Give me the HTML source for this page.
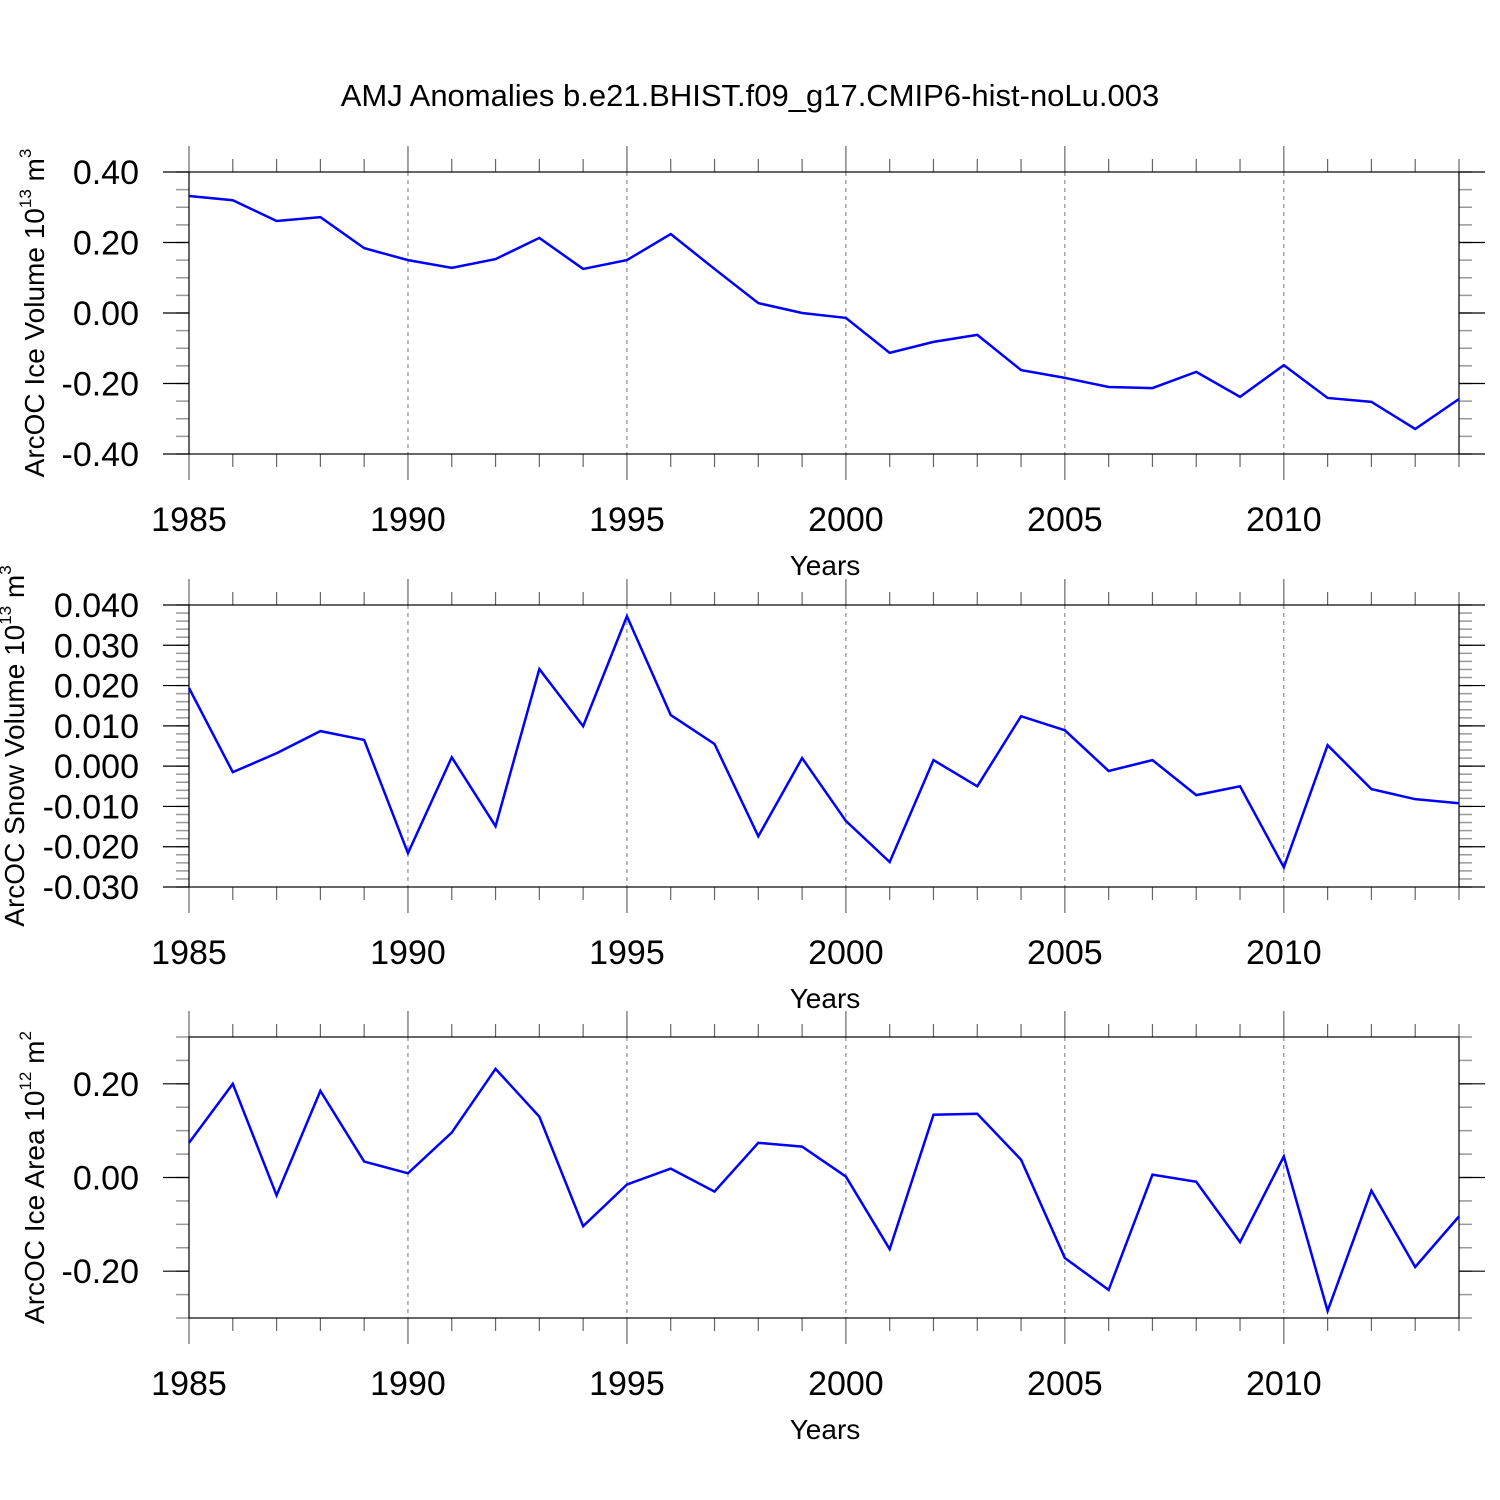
<!DOCTYPE html>
<html><head><meta charset="utf-8"><style>
html,body{margin:0;padding:0;background:#fff}
svg{display:block}
text{font-family:"Liberation Sans",sans-serif;fill:#000}
</style></head><body>
<svg id="chart" width="1500" height="1500" viewBox="0 0 1500 1500" xmlns="http://www.w3.org/2000/svg">
<text x="750" y="106" font-size="31" text-anchor="middle">AMJ Anomalies b.e21.BHIST.f09_g17.CMIP6-hist-noLu.003</text>
<g id="plots"></g>
</svg>
<script>
const years = [1985,1986,1987,1988,1989,1990,1991,1992,1993,1994,1995,1996,1997,1998,1999,2000,2001,2002,2003,2004,2005,2006,2007,2008,2009,2010,2011,2012,2013,2014];
const iceVolume = [0.332,0.32,0.261,0.272,0.184,0.150,0.128,0.153,0.213,0.125,0.150,0.224,0.125,0.028,0.0,-0.014,-0.113,-0.082,-0.062,-0.162,-0.184,-0.21,-0.213,-0.167,-0.238,-0.148,-0.241,-0.252,-0.329,-0.244];
const snowVolume = [0.0194,-0.0015,0.0032,0.0087,0.0065,-0.0216,0.0022,-0.0149,0.0241,0.0099,0.0372,0.0127,0.0055,-0.0174,0.002,-0.0136,-0.0238,0.0015,-0.005,0.0124,0.0089,-0.0012,0.0015,-0.0072,-0.005,-0.0251,0.0052,-0.0057,-0.0082,-0.0092];
const iceArea = [0.074,0.2,-0.038,0.185,0.034,0.009,0.096,0.232,0.13,-0.104,-0.015,0.019,-0.03,0.074,0.066,0.002,-0.153,0.134,0.136,0.038,-0.172,-0.24,0.006,-0.009,-0.138,0.045,-0.285,-0.028,-0.191,-0.083];
const xTickLabels = ["1985","1990","1995","2000","2005","2010"];
const volTicks = [0.4,0.2,0,-0.2,-0.4];
const snowTicks = [0.04,0.03,0.02,0.01,0,-0.01,-0.02,-0.03];
const areaTicks = [0.2,0,-0.2];

const NS="http://www.w3.org/2000/svg";
const root=document.getElementById('plots');
function mk(tag,attrs,parent){const e=document.createElementNS(NS,tag);for(const k in attrs)e.setAttribute(k,attrs[k]);(parent||root).appendChild(e);return e;}
const X0=189,X1=1459,yr0=1985,yr1=2014;
function xs(y){return X0+(y-yr0)*(X1-X0)/(yr1-yr0);}

function panel(id,top,bot,vmin,vmax,vals,ticks,minorStep,dec,titleParts,titleX){
  const g=mk('g',{});
  
  
  const ys=v=>bot-(v-vmin)*(bot-top)/(vmax-vmin);
  for(let i=1;i<xTickLabels.length;i++){
    const x=xs(+xTickLabels[i]);
    const l=mk('line',{x1:x,x2:x,y1:top,y2:bot,stroke:'#777','stroke-width':1,'stroke-dasharray':'4,4'},g);
    
    
  }
  const n=Math.round((vmax-vmin)/minorStep);
  for(let i=0;i<=n;i++){const y=ys(vmin+i*minorStep);
    mk('line',{x1:X0-13,x2:X0,y1:y,y2:y,stroke:'#999','stroke-width':1.5},g);
    mk('line',{x1:X1,x2:X1+13,y1:y,y2:y,stroke:'#999','stroke-width':1.5},g);}
  ticks.forEach(t=>{const y=ys(t);
    mk('line',{x1:X0-26,x2:X0,y1:y,y2:y,stroke:'#000','stroke-width':1.2},g);
    mk('line',{x1:X1,x2:X1+26,y1:y,y2:y,stroke:'#000','stroke-width':1.2},g);
    const tx=mk('text',{x:X0-50,y:y+12,'font-size':34,'text-anchor':'end'},g);
    tx.textContent=t.toFixed(dec);
    
    });
  years.forEach(yv=>{const x=xs(yv);const major=(yv%5===0);const L=major?26:13;
    mk('line',{x1:x,x2:x,y1:top-L,y2:top,stroke:'#666','stroke-width':1.2},g);
    mk('line',{x1:x,x2:x,y1:bot,y2:bot+L,stroke:'#666','stroke-width':1.2},g);});
  xTickLabels.forEach(l=>{const tx=mk('text',{x:xs(+l),y:bot+77,'font-size':34,'text-anchor':'middle'},g);
    tx.textContent=l;
    
    });
  const box=mk('rect',{x:X0,y:top,width:X1-X0,height:bot-top,fill:'none',stroke:'#000','stroke-width':1.2},g);
  
  
  const pl=mk('polyline',{points:vals.map((v,i)=>xs(years[i])+','+ys(v)).join(' '),fill:'none',stroke:'#0000ff','stroke-width':2.5,'stroke-linejoin':'miter'},g);
  
  
  const xt=mk('text',{x:825,y:bot+121,'font-size':28,'text-anchor':'middle'},g);
  xt.textContent='Years';
  
  
  const yt=mk('text',{x:0,y:0,'font-size':28,'text-anchor':'middle',transform:`translate(${titleX},${(top+bot)/2}) rotate(-90)`},g);
  
  
  const a=mk('tspan',{},yt);a.textContent=titleParts[0];
  const b=mk('tspan',{'font-size':17,dy:-13},yt);b.textContent=titleParts[1];
  const c=mk('tspan',{dy:13},yt);c.textContent=' m';
  const d=mk('tspan',{'font-size':17,dy:-13},yt);d.textContent=titleParts[2];
}
panel('ice-volume',172,454,-0.4,0.4,iceVolume,volTicks,0.05,2,['ArcOC Ice Volume 10','13','3'],44);
panel('snow-volume',605,887,-0.03,0.04,snowVolume,snowTicks,0.002,3,['ArcOC Snow Volume 10','13','3'],24);
panel('ice-area',1037,1318,-0.3,0.3,iceArea,areaTicks,0.05,2,['ArcOC Ice Area 10','12','2'],44);
</script>
</body></html>
